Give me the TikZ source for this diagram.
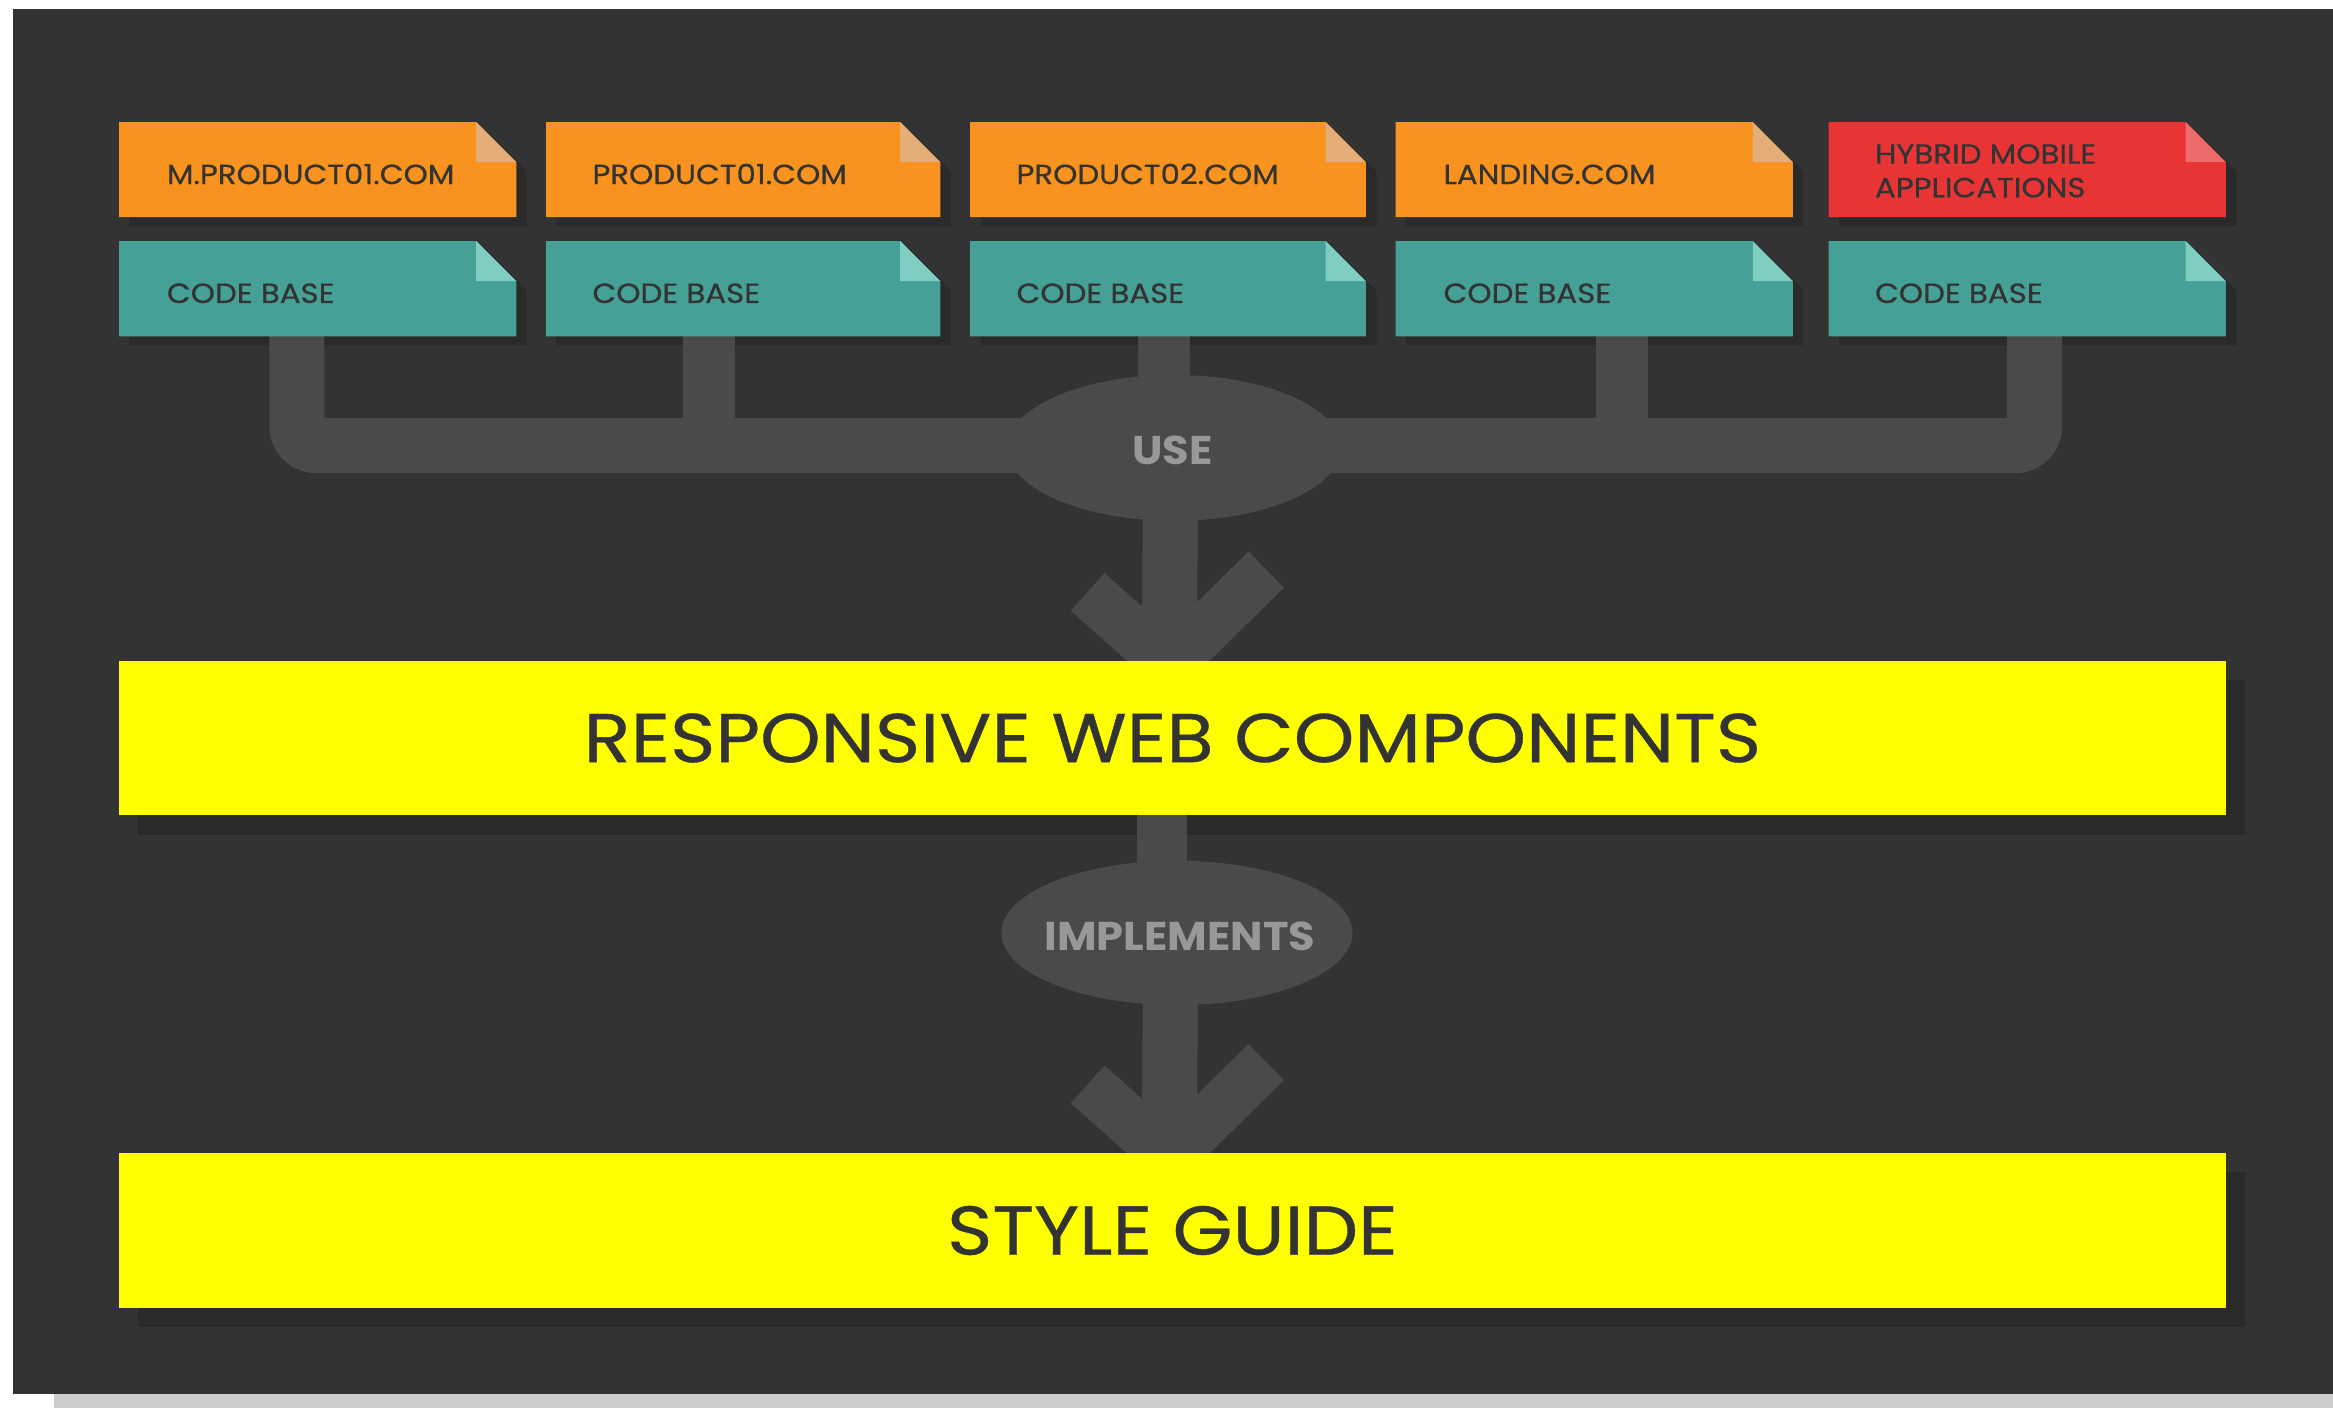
\documentclass[tikz,border=0pt]{standalone}
\usepackage{fontspec}
\setmainfont{Poppins}[FakeStretch=1.115, FakeBold=0.5]
\newfontfamily\lblfont{Poppins}[FakeStretch=1.075]
\usetikzlibrary{shapes.geometric,calc}
\pgfdeclarelayer{bglayer}
\pgfdeclarelayer{shadowlayer}
\pgfdeclarelayer{connlayer}
\pgfsetlayers{bglayer,shadowlayer,connlayer,main}
\definecolor{darkbg}{HTML}{333333}
\definecolor{shadowc}{HTML}{2A2A2A}
\definecolor{connc}{HTML}{4A4A4A}
\definecolor{lblc}{HTML}{989898}
\definecolor{orangec}{HTML}{F7931E}
\definecolor{orangef}{HTML}{E5AD77}
\definecolor{tealc}{HTML}{45A096}
\definecolor{tealf}{HTML}{80CDC1}
\definecolor{redc}{HTML}{E83434}
\definecolor{redf}{HTML}{EE6B6B}
\definecolor{yellowc}{HTML}{FFFF00}
\definecolor{txtc}{HTML}{333333}
\definecolor{stripc}{HTML}{CCCCCC}
\tikzset{
  cardtxt/.style={anchor=base west, inner sep=0, text=txtc, font=\fontsize{18.6}{22}\selectfont},
  bigbox/.style={fill=yellowc, minimum width=1416pt, minimum height=104pt, inner sep=0, text=txtc, font=\fontsize{46.5}{50}\selectfont},
  conn/.style={draw=connc, line width=35pt, line cap=butt},
  lbl/.style={text=lblc, inner sep=0, font=\fontsize{27}{30}\selectfont\lblfont\bfseries},
  bubble/.style={ellipse, fill=connc, inner sep=0}
}
% name, left, top, width, fill, fold
\newcommand{\mkcard}[6]{%
  \pgfmathsetmacro{\crdR}{#2+#4}%
  \pgfmathsetmacro{\crdB}{#3+64}%
  \pgfmathsetmacro{\crdF}{#2+#4-27}%
  \pgfmathsetmacro{\crdG}{#3+27}%
  \node[anchor=north west, minimum width=#4pt, minimum height=64pt, inner sep=0] (#1) at (#2,#3) {};
  \begin{pgfonlayer}{shadowlayer}
    \fill[shadowc, shift={(7,6)}] (#2,#3) -- (\crdF,#3) -- (\crdR,\crdG) -- (\crdR,\crdB) -- (#2,\crdB) -- cycle;
  \end{pgfonlayer}
  \fill[#5] (#2,#3) -- (\crdF,#3) -- (\crdR,\crdG) -- (\crdR,\crdB) -- (#2,\crdB) -- cycle;
  \fill[#6] (\crdF,#3) -- (\crdR,\crdG) -- (\crdF,\crdG) -- cycle;
}
\begin{document}
\begin{tikzpicture}[x=1pt,y=-1pt]
\useasboundingbox (0,0) rectangle (1568,946);
\begin{pgfonlayer}{bglayer}
  \fill[white] (0,0) rectangle (1568,946);
  \fill[stripc] (36,937) rectangle (1568,946);
  \fill[darkbg] (9,6) rectangle (1568,937);
\end{pgfonlayer}

% product cards
\mkcard{p1}{80}{82}{267}{orangec}{orangef}
\mkcard{p2}{367}{82}{265}{orangec}{orangef}
\mkcard{p3}{652}{82}{266}{orangec}{orangef}
\mkcard{p4}{938}{82}{267}{orangec}{orangef}
\mkcard{p5}{1229}{82}{267}{redc}{redf}
\node[cardtxt] (p1t) at (112,123.7) {M.PRODUCT01.COM};
\node[cardtxt] (p2t) at (398,123.7) {PRODUCT01.COM};
\node[cardtxt] (p3t) at (683,123.7) {PRODUCT02.COM};
\node[cardtxt] (p4t) at (970,123.7) {LANDING.COM};
\node[cardtxt] (p5t) at (1260,110) {HYBRID MOBILE};
\node[cardtxt] (p5u) at (1260,132.6) {APPLICATIONS};

% code base cards
\mkcard{c1}{80}{162}{267}{tealc}{tealf}
\mkcard{c2}{367}{162}{265}{tealc}{tealf}
\mkcard{c3}{652}{162}{266}{tealc}{tealf}
\mkcard{c4}{938}{162}{267}{tealc}{tealf}
\mkcard{c5}{1229}{162}{267}{tealc}{tealf}
\node[cardtxt] (c1t) at (112,203.6) {CODE BASE};
\node[cardtxt] (c2t) at (398,203.6) {CODE BASE};
\node[cardtxt] (c3t) at (683,203.6) {CODE BASE};
\node[cardtxt] (c4t) at (970,203.6) {CODE BASE};
\node[cardtxt] (c5t) at (1260,203.6) {CODE BASE};

% big boxes
\begin{pgfonlayer}{shadowlayer}
  \fill[shadowc] (93,457) rectangle (1509,561);
  \fill[shadowc] (93,788) rectangle (1509,892);
\end{pgfonlayer}
\node[bigbox] (rwc) at (788,496) {RESPONSIVE WEB COMPONENTS};
\node[bigbox] (sg) at (788,827) {STYLE GUIDE};

% connectors
\begin{pgfonlayer}{connlayer}
  \coordinate (s1) at ($(c1.south west)+(119.5,-8)$);
  \coordinate (s2) at ($(c2.south west)+(109.5,-8)$);
  \coordinate (s3) at ($(c3.south west)+(130.5,-8)$);
  \coordinate (s4) at ($(c4.south west)+(152,-8)$);
  \coordinate (s5) at ($(c5.south west)+(138.5,-8)$);
  \coordinate (barY) at (0,299.5);
  \draw[conn, line width=37pt, rounded corners=13pt] (s1) -- (s1 |- barY) -- (s5 |- barY) -- (s5);
  \draw[conn] (s2) -- (s2 |- barY);
  \draw[conn] (s4) -- (s4 |- barY);
  \node[bubble, minimum width=224pt, minimum height=98pt] (use) at (789,301) {};
  \draw[conn] (s3) -- (s3 |- use.center);
  \node[lbl] (uset) at (788,302.5) {USE};
  % arrow 1
  \coordinate (v1) at ($(rwc.north)+(-2,3)$);
  \draw[conn, line width=37pt] ($(use.south)+(-2.5,-10)$) -- (v1);
  \draw[conn, line width=34pt, line join=miter] ($(v1)+(-55,-49)$) -- (v1) -- ($(v1)+(65,-64)$);
  % second
  \node[bubble, minimum width=236pt, minimum height=97pt] (impl) at (791,627) {};
  \draw[conn, line width=34pt] ($(rwc.south)+(-7,-8)$) -- ($(rwc.south |- impl.north)+(-7,12)$);
  \node[lbl] (implt) at (793,629) {IMPLEMENTS};
  \coordinate (v2) at ($(sg.north)+(-2,3)$);
  \draw[conn, line width=37pt] ($(impl.south)+(-4.5,-10)$) -- (v2);
  \draw[conn, line width=34pt, line join=miter] ($(v2)+(-55,-49)$) -- (v2) -- ($(v2)+(65,-64)$);
\end{pgfonlayer}
\end{tikzpicture}
\end{document}
